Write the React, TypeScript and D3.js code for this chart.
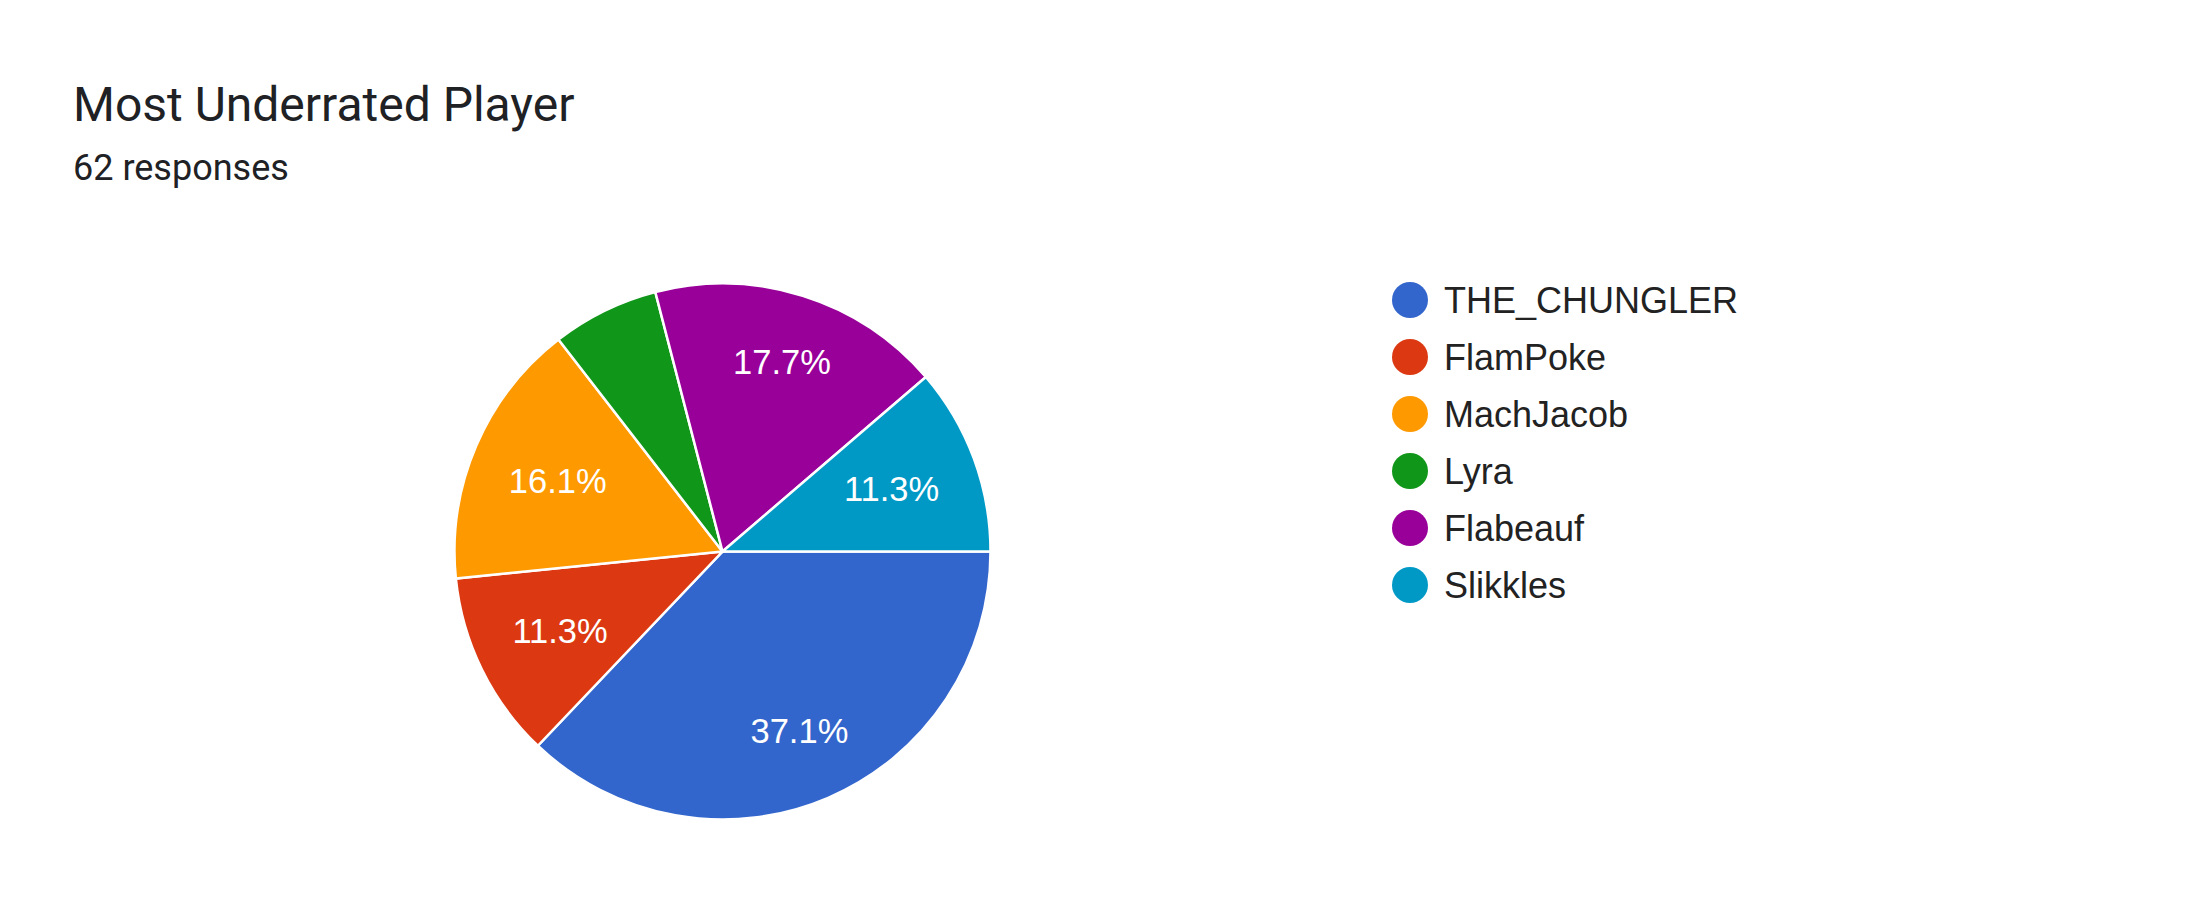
import React from "react";
import * as d3 from "d3";

const title = "Most Underrated Player";
const subtitle = "62 responses";
const categories = ["THE_CHUNGLER", "FlamPoke", "MachJacob", "Lyra", "Flabeauf", "Slikkles"];
const values = [23, 7, 10, 4, 11, 7];
const colors = ["#3366cc", "#dc3912", "#ff9900", "#109618", "#990099", "#0099c6"];

const W = 2199;
const H = 924;
const cx = 722.5;
const cy = 551.5;
const R = 268;
const labelFont = 34.5;
const labelFamily = "Arial, 'Liberation Sans'";

function measure(text: string, size: number, family: string): number {
  if (typeof document === "undefined") return text.length * size * 0.55;
  const c = document.createElement("canvas");
  const ctx = c.getContext("2d");
  if (!ctx) return text.length * size * 0.55;
  ctx.font = `${size}px ${family}`;
  return ctx.measureText(text).width;
}

export default function App() {
  const total = d3.sum(values);
  const data = categories.map((c, i) => ({ name: c, value: values[i], color: colors[i] }));
  const pie = d3
    .pie<{ name: string; value: number; color: string }>()
    .value((d) => d.value)
    .sort(null)
    .startAngle(Math.PI / 2)
    .endAngle(Math.PI / 2 + 2 * Math.PI);
  const arcs = pie(data);
  const arc = d3.arc<any>().innerRadius(0).outerRadius(R);
  const fmt = (v: number) => ((v / total) * 100).toFixed(1) + "%";

  const legendY = d3.scalePoint<string>().domain(categories).range([300, 585]);

  // place label so that outer corner of its box sits at a fixed radius
  const D = R * 0.856;
  const labelPos = (a: any, text: string) => {
    const mid = (a.startAngle + a.endAngle) / 2;
    const ux = Math.sin(mid);
    const uy = -Math.cos(mid);
    const hw = measure(text, labelFont, labelFamily) / 2;
    const hh = (labelFont * 0.73) / 2;
    const p = Math.abs(ux) * hw + Math.abs(uy) * hh;
    const d = -p + Math.sqrt(p * p - (hw * hw + hh * hh - D * D));
    return [d * ux, d * uy];
  };

  return (
    <svg
      width={W}
      height={H}
      style={{ position: "absolute", left: 0, top: 0, background: "#fff" }}
    >
      <rect x={0} y={0} width={W} height={H} fill="#fff" />
      <text x={73} y={121} fontFamily="Roboto" fontSize={48} fill="#202124">
        {title}
      </text>
      <text x={73} y={180} fontFamily="Roboto" fontSize={36} fill="#202124">
        {subtitle}
      </text>
      <g transform={`translate(${cx},${cy})`}>
        {arcs.map((a, i) => (
          <path key={i} d={arc(a) as string} fill={a.data.color} stroke="#fff" strokeWidth={2.5} />
        ))}
        {arcs.map((a, i) => {
          if (a.endAngle - a.startAngle < 0.5) return null;
          const t = fmt(a.data.value);
          const [x, y] = labelPos(a, t);
          return (
            <text
              key={"l" + i}
              x={x}
              y={y}
              dy="0.35em"
              textAnchor="middle"
              fontFamily={labelFamily}
              fontSize={labelFont}
              fill="#fff"
            >
              {t}
            </text>
          );
        })}
      </g>
      <g>
        {categories.map((c, i) => (
          <g key={c} transform={`translate(1410,${legendY(c)})`}>
            <circle r={18} fill={colors[i]} />
            <text x={34} y={0} dy="0.36em" fontFamily="Arial, 'Liberation Sans'" fontSize={36} fill="#222222">
              {c}
            </text>
          </g>
        ))}
      </g>
    </svg>
  );
}
